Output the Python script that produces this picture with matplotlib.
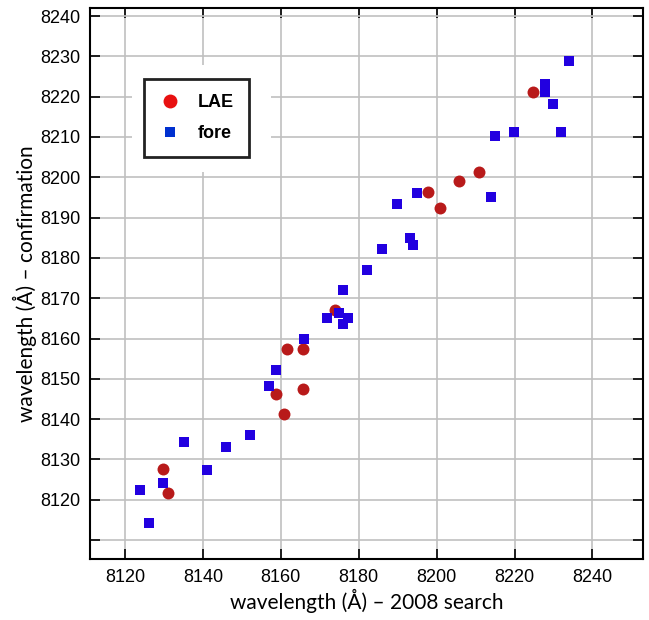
import matplotlib
matplotlib.use('Agg')
import matplotlib.pyplot as plt
from matplotlib.lines import Line2D
from matplotlib.patches import Rectangle

# LAE: (2008 search, confirmation)
lae_x = [8129.7, 8130.9, 8161.7, 8165.8, 8158.7, 8165.8, 8160.9, 8173.9,
         8197.9, 8200.8, 8205.7, 8211.0, 8224.7]
lae_y = [8127.6, 8121.6, 8157.5, 8157.5, 8146.3, 8147.5, 8141.3, 8167.1,
         8196.4, 8192.4, 8199.2, 8201.4, 8221.2]

# foreground objects
fore_x = [8123.9, 8126.2, 8129.8, 8135.2, 8141.1, 8146.0, 8152.1, 8157.0,
          8158.8, 8166.0, 8171.8, 8175.0, 8176.0, 8177.3, 8176.0, 8182.0,
          8186.1, 8193.2, 8194.0, 8189.9, 8195.0, 8214.0, 8215.1, 8219.9,
          8232.0, 8230.0, 8227.9, 8227.9, 8234.1]
fore_y = [8122.4, 8114.2, 8124.1, 8134.3, 8127.4, 8133.0, 8136.1, 8148.2,
          8152.2, 8160.0, 8165.1, 8166.3, 8163.7, 8165.1, 8172.0, 8177.0,
          8182.2, 8185.0, 8183.2, 8193.4, 8196.2, 8195.1, 8210.2, 8211.2,
          8211.2, 8218.3, 8223.1, 8221.1, 8228.9]

xticks = [8120, 8140, 8160, 8180, 8200, 8220, 8240]
yticks = [8110, 8120, 8130, 8140, 8150, 8160, 8170, 8180, 8190, 8200,
          8210, 8220, 8230, 8240]
ylabels = [''] + [str(v) for v in yticks[1:]]

red = '#b81a1a'
blue = '#2200e0'

fig = plt.figure(figsize=(6.49, 6.20), dpi=100)
ax = fig.add_axes([0.1387, 0.0984, 0.8521, 0.8887])

ax.plot(lae_x, lae_y, 'o', color=red, markersize=8.6, markeredgewidth=0, zorder=3)
ax.plot(fore_x, fore_y, 's', color=blue, markersize=7.9, markeredgewidth=0, zorder=4)

ax.set_xlim(8111, 8253)
ax.set_ylim(8105.3, 8242)
ax.set_xticks(xticks)
ax.set_yticks(yticks)
ax.set_yticklabels(ylabels)
ax.grid(True, color='#c0c0c0', linewidth=1.2, zorder=0)
ax.set_axisbelow(True)
ax.tick_params(direction='in', length=7, width=1.2, top=True, right=True,
               labelsize=13, pad=7)
for lab in ax.get_xticklabels() + ax.get_yticklabels():
    lab.set_fontfamily('Liberation Sans')
for s in ax.spines.values():
    s.set_linewidth(1.5)

ax.set_xlabel('wavelength (Å) – 2008 search', fontsize=15, family='Lato', labelpad=2)
ax.set_ylabel('wavelength (Å) – confirmation', fontsize=15, family='Lato', labelpad=2)

# white area behind the legend hides the grid
ax.add_patch(Rectangle((0.076, 0.702), 0.251, 0.195, transform=ax.transAxes,
                       facecolor='white', edgecolor='none', zorder=1))

handles = [Line2D([], [], marker='o', linestyle='none', color='#e81010',
                  markersize=10, markeredgewidth=0, label='LAE'),
           Line2D([], [], marker='s', linestyle='none', color='#0030d0',
                  markersize=7, markeredgewidth=0, label='fore')]
leg = ax.legend(handles=handles, loc='upper left', bbox_to_anchor=(0.0976, 0.871),
                borderaxespad=0, frameon=True, fancybox=False, framealpha=1,
                edgecolor='#222222',
                prop={'family': 'Liberation Sans', 'weight': 'bold', 'size': 13},
                handletextpad=0.9, labelspacing=0.75, borderpad=0.85, handlelength=1.2)
leg.get_frame().set_linewidth(2)
leg.set_zorder(5)

fig.savefig('out.png', dpi=100)
